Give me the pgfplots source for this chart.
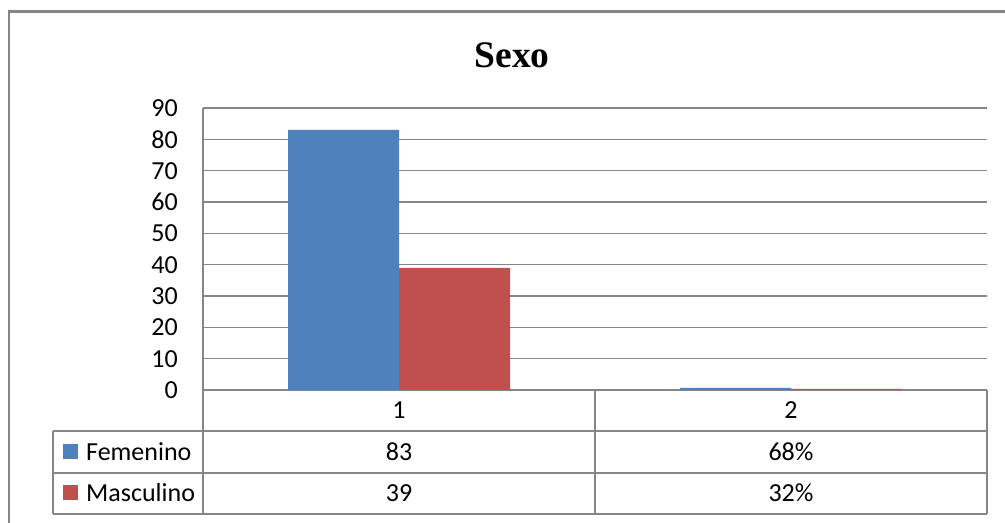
\documentclass[border=0pt]{standalone}
\usepackage{fontspec}
\setmainfont{Carlito}
\newfontfamily\titlefont{Liberation Serif}
\usepackage{pgfplots}
\pgfplotsset{compat=1.18}
\definecolor{fem}{HTML}{4F81BD}
\definecolor{mas}{HTML}{C0504D}
\definecolor{gridgray}{HTML}{868686}
\newcommand{\cf}{\fontsize{26bp}{30bp}\selectfont}
\begin{document}
\begin{tikzpicture}[x=1bp,y=1bp]
% outer chart frame
\draw[gridgray, line width=2.5bp] (9,-10) -- (9,511.5) -- (1015,511.5);
\begin{axis}[
  at={(203bp,133bp)}, anchor=south west,
  scale only axis, width=784bp, height=282bp,
  xmin=-0.5, xmax=1.5, ymin=0, ymax=90,
  ybar=0pt, bar width=111bp,
  xtick=\empty,
  ytick={0,10,...,90},
  ymajorgrids, grid style={gridgray, line width=1.6bp},
  axis x line*=bottom, axis y line*=left,
  axis line style={gridgray, line width=1.6bp, -},
  major tick length=0pt,
  /pgf/number format/assume math mode=true,
  yticklabel style={font=\cf, inner sep=0pt, xshift=-25bp, text=black},
  clip=false,
]
\addplot[fill=fem, draw=none] coordinates {(0,83) (1,0.68)};
\addplot[fill=mas, draw=none] coordinates {(0,39) (1,0.32)};
\end{axis}
% data table
\begin{scope}[gridgray, line width=1.6bp]
\draw (53,92) -- (987,92);
\draw (53,50) -- (987,50);
\draw (53,9) -- (987,9);
\draw (53,9) -- (53,92);
\draw (203,9) -- (203,133);
\draw (595,9) -- (595,133);
\draw (987,9) -- (987,133);
\end{scope}
\node[font=\cf, inner sep=0pt] at (399,113) {1};
\node[font=\cf, inner sep=0pt] at (791,113) {2};
\node[font=\cf, inner sep=0pt] at (399,71) {83};
\node[font=\cf, inner sep=0pt] at (791,71) {68\%};
\node[font=\cf, inner sep=0pt] at (399,30) {39};
\node[font=\cf, inner sep=0pt] at (791,30) {32\%};
\fill[fem] (63,63.5) rectangle (78,78.5);
\fill[mas] (63,22.5) rectangle (78,37.5);
\node[font=\cf, inner sep=0pt, anchor=west] at (86,71) {Femenino};
\node[font=\cf, inner sep=0pt, anchor=west] at (86,30) {Masculino};
% title
\node[font=\titlefont\bfseries\fontsize{37.5bp}{40bp}\selectfont, inner sep=0pt] at (512,468) {Sexo};
\pgfresetboundingbox
\path[use as bounding box] (0,0) rectangle (1005,523);
\end{tikzpicture}
\end{document}
